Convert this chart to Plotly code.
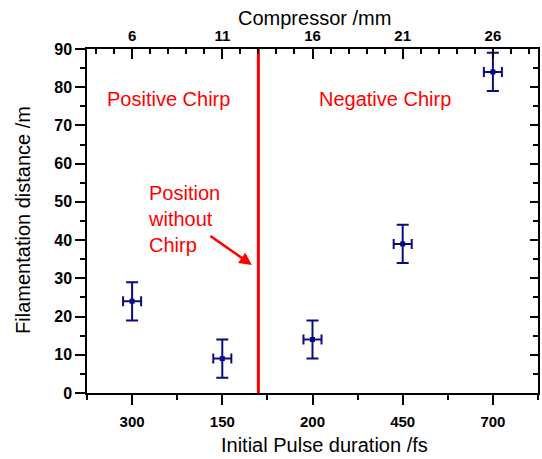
import plotly.graph_objects as go

# ---- data ----
compressor_mm = [6, 11, 16, 21, 26]
pulse_duration_labels = ["300", "150", "200", "450", "700"]
compressor_labels = ["6", "11", "16", "21", "26"]
filament_distance = [24, 9, 14, 39, 84]
distance_err = [5, 5, 5, 5, 5]
compressor_err = [0.5, 0.5, 0.5, 0.5, 0.5]
zero_chirp_position = 13
y_range = [0, 90]
x_range = [3.5, 28.5]

FONT = "Liberation Sans, Arial, Helvetica, sans-serif"
NAVY = "#0a0a82"
RED = "#ff0000"

fig = go.Figure()

# zero chirp line
fig.add_trace(go.Scatter(
    x=[zero_chirp_position, zero_chirp_position], y=y_range,
    mode="lines", line=dict(color=RED, width=3),
    showlegend=False, hoverinfo="skip"))

# data points with error bars
fig.add_trace(go.Scatter(
    x=compressor_mm, y=filament_distance, mode="markers",
    marker=dict(symbol="square", size=5, color=NAVY),
    error_y=dict(type="data", array=distance_err, color=NAVY, thickness=2, width=6),
    error_x=dict(type="data", array=compressor_err, color=NAVY, thickness=2, width=5),
    showlegend=False))

# invisible trace on secondary axes so they render
fig.add_trace(go.Scatter(
    x=compressor_mm, y=filament_distance, xaxis="x2", yaxis="y2",
    mode="markers", marker=dict(opacity=0), showlegend=False, hoverinfo="skip"))

tickfont = dict(family=FONT, size=15, color="black", weight="bold")

fig.update_layout(
    width=542, height=459,
    margin=dict(l=87, r=4, t=49, b=66),
    paper_bgcolor="white", plot_bgcolor="white",
    font=dict(family=FONT, color="black"),
    xaxis=dict(
        range=x_range, tickmode="array", tickvals=compressor_mm,
        ticktext=pulse_duration_labels, ticks="outside", ticklen=10,
        tickwidth=1.5, tickcolor="black", tickfont=tickfont,
        ticklabelstandoff=4,
        minor=dict(tickmode="linear", tick0=3.5, dtick=2.5, ticks="outside",
                   ticklen=5, tickwidth=1.5, tickcolor="black"),
        showline=True, linecolor="black", linewidth=1.5,
        showgrid=False, zeroline=False),
    xaxis2=dict(
        overlaying="x", side="top", range=x_range, tickmode="array",
        tickvals=compressor_mm, ticktext=compressor_labels,
        ticks="inside", ticklen=10, tickwidth=1.5, tickcolor="black",
        tickfont=tickfont,
        minor=dict(tickmode="linear", tick0=4, dtick=1, ticks="inside",
                   ticklen=5, tickwidth=1.5, tickcolor="black"),
        showline=True, linecolor="black", linewidth=1.5,
        showgrid=False, zeroline=False),
    yaxis=dict(
        range=y_range, tickmode="linear", tick0=0, dtick=10,
        ticks="outside", ticklen=10, tickwidth=1.5, tickcolor="black",
        tickfont=dict(family=FONT, size=16, color="black", weight="bold"),
        minor=dict(tickmode="linear", tick0=0, dtick=5, ticks="outside",
                   ticklen=5, tickwidth=1.5, tickcolor="black"),
        showline=True, linecolor="black", linewidth=1.5,
        showgrid=False, zeroline=False),
    yaxis2=dict(
        overlaying="y", side="right", range=y_range, tickmode="linear",
        tick0=0, dtick=10, ticks="inside", ticklen=8, tickwidth=1.5,
        tickcolor="black", showticklabels=False,
        minor=dict(tickmode="linear", tick0=0, dtick=5, ticks="inside",
                   ticklen=5, tickwidth=1.5, tickcolor="black"),
        showline=True, linecolor="black", linewidth=1.5,
        showgrid=False, zeroline=False),
)

title_font = dict(family=FONT, size=20, color="black")
red_font = dict(family=FONT, size=20, color=RED)

annotations = [
    dict(text="Compressor /mm", xref="paper", yref="paper", x=0.5055, y=1.09,
         xanchor="center", yanchor="middle", showarrow=False, font=title_font),
    dict(text="Initial Pulse duration /fs", xref="paper", yref="paper",
         x=0.5255, y=-0.152, xanchor="center", yanchor="middle",
         showarrow=False, font=title_font),
    dict(text="Filamentation distance /m", xref="paper", yref="paper",
         x=-0.142, y=0.503, xanchor="center", yanchor="middle", textangle=-90,
         showarrow=False, font=title_font),
    dict(text="Positive Chirp", xref="x", yref="y", x=8, y=77,
         xanchor="center", yanchor="middle", showarrow=False, font=red_font),
    dict(text="Negative Chirp", xref="x", yref="y", x=20, y=77,
         xanchor="center", yanchor="middle", showarrow=False, font=red_font),
    dict(text="Position<br>without<br>Chirp", xref="x", yref="y", x=6.76, y=45.5,
         xanchor="left", yanchor="middle", align="left", showarrow=False,
         font=red_font),
    dict(text="", xref="x", yref="y", x=12.64, y=33.5, ax=-43, ay=-30,
         showarrow=True, arrowhead=2, arrowsize=1, arrowwidth=2.5,
         arrowcolor=RED),
]
fig.update_layout(annotations=annotations)

fig.write_html("out.html", config={"displayModeBar": False},
               post_script="document.body.style.margin='0';document.body.style.padding='0';")
